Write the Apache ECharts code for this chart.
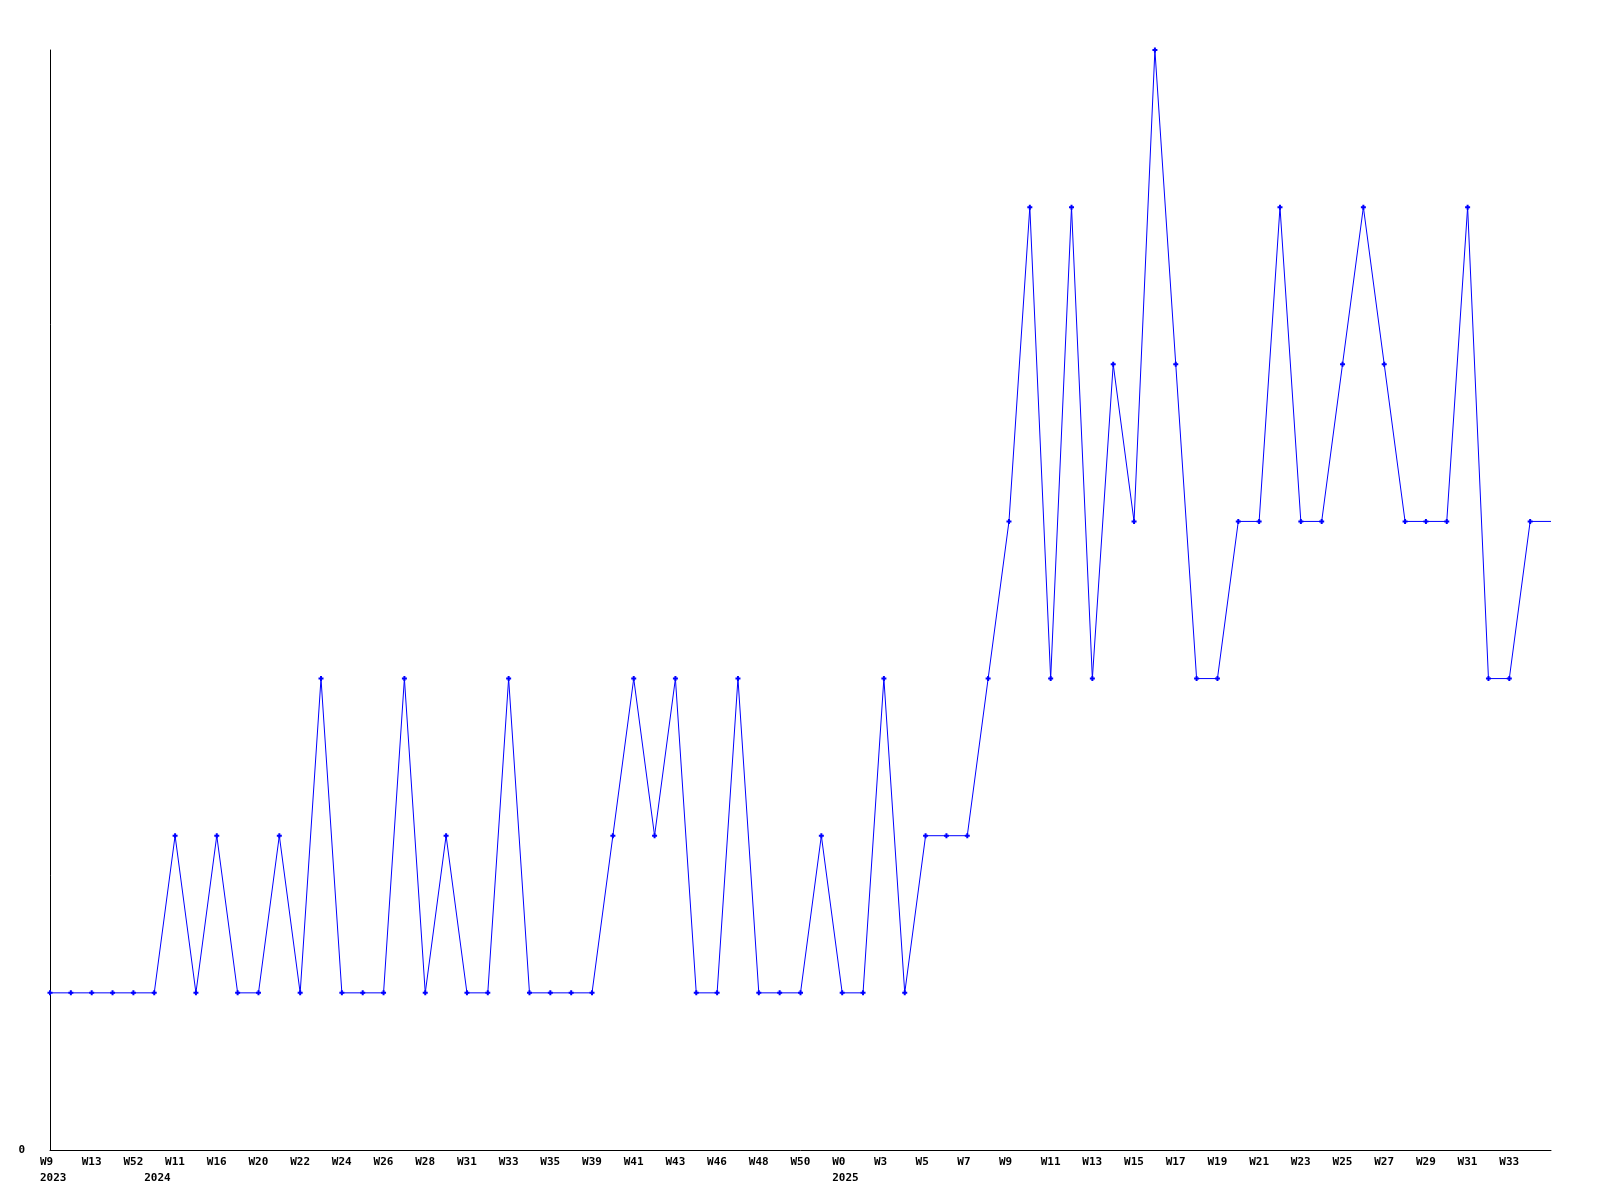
<!DOCTYPE html>
<html>
<head>
<meta charset="utf-8">
<script src="https://cdn.jsdelivr.net/npm/echarts@6/dist/echarts.min.js"></script>
<style>
html,body{margin:0;padding:0;background:#fff;}
#chart{width:1600px;height:1200px;}
</style>
</head>
<body>
<div id="chart"></div>
<script>
// Week categories (even indices are the visible labels)
const weekLabels = [
  'W9','W10','W13','W50','W52','W1','W11','W14','W16','W18',
  'W20','W21','W22','W23','W24','W25','W26','W27','W28','W30',
  'W31','W32','W33','W34','W35','W37','W39','W40','W41','W42',
  'W43','W45','W46','W47','W48','W49','W50','W51','W0','W2',
  'W3','W4','W5','W6','W7','W8','W9','W10','W11','W12',
  'W13','W14','W15','W16','W17','W18','W19','W20','W21','W22',
  'W23','W24','W25','W26','W27','W28','W29','W30','W31','W32',
  'W33','W34','W35'
];
// Year marker under the first week of each year
const yearLabels = [
  '2023','','','','','2024','','','','',
  '','','','','','','','','','',
  '','','','','','','','','','',
  '','','','','','','','','2025','',
  '','','','','','','','','','',
  '','','','','','','','','','',
  '','','','','','','','','','',
  '','',''
];
const values = [
  1,1,1,1,1,1,2,1,2,1,
  1,2,1,3,1,1,1,3,1,2,
  1,1,3,1,1,1,1,2,3,2,
  3,1,1,3,1,1,1,2,1,1,
  3,1,2,2,2,3,4,6,3,6,
  3,5,4,7,5,3,3,4,4,6,
  4,4,5,6,5,4,4,4,6,3,
  3,4,4
];
const yTickLabels = ['0'];

const font = '"DejaVu Sans Mono", "Liberation Mono", monospace';
const lastIdx = values.length - 1;
const seriesData = values.map((v, i) => i === lastIdx ? {value: v, symbol: 'none'} : v);

const chart = echarts.init(document.getElementById('chart'), null, {renderer: 'canvas'});
chart.setOption({
  animation: false,
  backgroundColor: '#ffffff',
  grid: {left: 50, right: 49, top: 50, bottom: 50, containLabel: false},
  xAxis: [{
    type: 'category',
    data: weekLabels,
    boundaryGap: false,
    axisLine: {show: true, lineStyle: {color: '#000', width: 1}},
    axisTick: {show: false},
    splitLine: {show: false},
    axisLabel: {
      interval: (i) => i % 2 === 0 && i < lastIdx,
      margin: 7,
      formatter: (v) => '{a|' + v + '}',
      rich: {a: {width: 20, align: 'left', fontFamily: font, fontWeight: 'bold', fontSize: 11, color: '#000'}}
    }
  }, {
    type: 'category',
    data: weekLabels,
    boundaryGap: false,
    position: 'bottom',
    axisLine: {show: false},
    axisTick: {show: false},
    splitLine: {show: false},
    axisLabel: {
      interval: 0,
      margin: 23,
      formatter: (v, i) => yearLabels[i] ? '{a|' + yearLabels[i] + '}' : '',
      rich: {a: {width: 20, align: 'left', fontFamily: font, fontWeight: 'bold', fontSize: 11, color: '#000'}}
    }
  }],
  yAxis: {
    type: 'value',
    min: 0,
    max: 7,
    interval: 7,
    axisLine: {show: true, lineStyle: {color: '#000', width: 1}},
    axisTick: {show: false},
    splitLine: {show: false},
    axisLabel: {
      margin: 25,
      fontFamily: font,
      fontWeight: 'bold',
      fontSize: 11,
      color: '#000',
      formatter: (v) => v === 0 ? yTickLabels[0] : ''
    }
  },
  series: [{
    type: 'line',
    xAxisIndex: 0,
    data: seriesData,
    symbol: 'path://M1.5,0H3.5V1.5H5V3.5H3.5V5H1.5V3.5H0V1.5H1.5Z',
    symbolSize: 5,
    showAllSymbol: true,
    itemStyle: {color: '#0000ff'},
    lineStyle: {color: '#0000ff', width: 1},
    emphasis: {disabled: true}
  }]
});
</script>
</body>
</html>
